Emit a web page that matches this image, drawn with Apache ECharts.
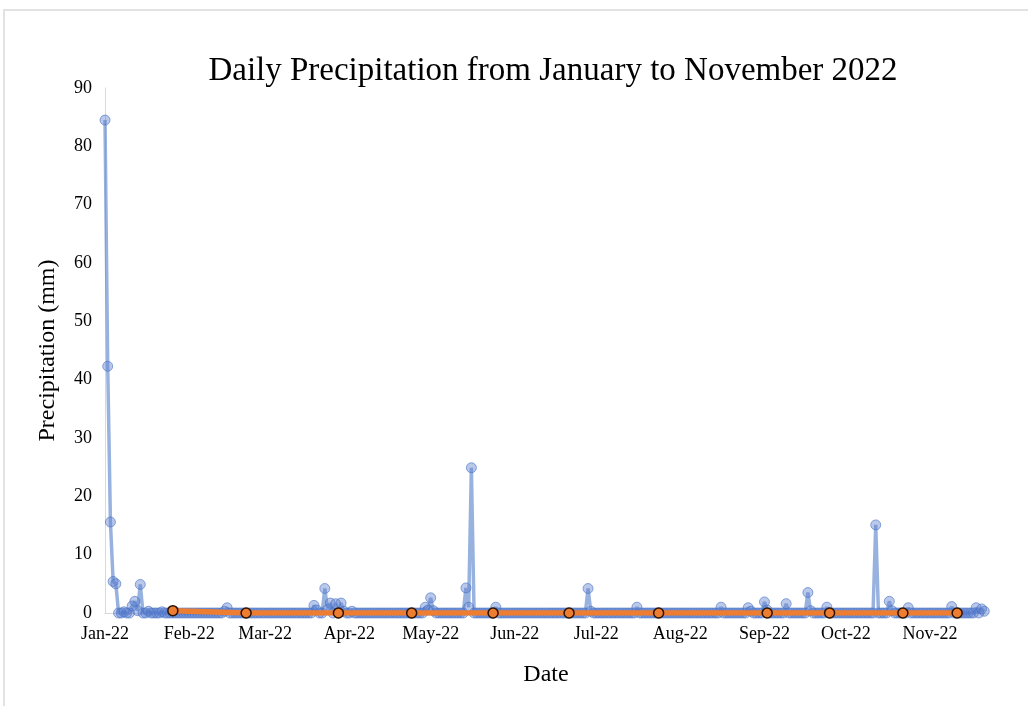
<!DOCTYPE html>
<html>
<head>
<meta charset="utf-8">
<script src="https://cdn.jsdelivr.net/npm/echarts@6/dist/echarts.min.js"></script>
<style>
  html, body { margin: 0; padding: 0; background: #ffffff; }
  #chart { width: 1028px; height: 706px; }
</style>
</head>
<body>
<div id="chart"></div>
<script>
// Daily precipitation (mm), one array per month of 2022
const precipJan = [84.5, 42.3, 15.6, 5.4, 5.0, 0, 0, 0.2, 0, 0, 1.2, 2.0, 0.4, 4.9, 0, 0, 0.3, 0, 0, 0, 0, 0.2, 0, 0, 0, 0, 0, 0, 0, 0, 0];
const precipFeb = [0, 0, 0, 0, 0, 0, 0, 0, 0, 0, 0, 0, 0, 0.3, 0.9, 0, 0, 0, 0, 0, 0, 0, 0, 0, 0, 0, 0, 0];
const precipMar = [0, 0, 0, 0, 0, 0, 0, 0, 0, 0, 0, 0, 0, 0, 0, 0, 0, 0, 1.3, 0.5, 0, 0, 4.2, 0.6, 1.7, 0, 1.6, 0, 1.7, 0.3, 0];
const precipApr = [0, 0.3, 0, 0, 0, 0, 0, 0, 0, 0, 0, 0, 0, 0, 0, 0, 0, 0, 0, 0, 0, 0, 0, 0, 0, 0, 0, 0, 1.0, 0.5];
const precipMay = [2.6, 0.4, 0, 0, 0, 0, 0, 0, 0, 0, 0, 0, 0, 4.3, 1.0, 24.9, 0, 0, 0, 0, 0, 0, 0, 0, 1.0, 0, 0, 0, 0, 0, 0];
const precipJun = [0, 0, 0, 0, 0, 0, 0, 0, 0, 0, 0, 0, 0, 0, 0, 0, 0, 0, 0, 0, 0, 0, 0, 0, 0, 0, 0, 4.2, 0.3, 0];
const precipJul = [0, 0, 0, 0, 0, 0, 0, 0, 0, 0, 0, 0, 0, 0, 0, 1.0, 0, 0, 0, 0, 0, 0, 0, 0, 0, 0, 0, 0, 0, 0, 0];
const precipAug = [0, 0, 0, 0, 0, 0, 0, 0, 0, 0, 0, 0, 0, 0, 0, 1.0, 0, 0, 0, 0, 0, 0, 0, 0, 0, 0.9, 0.3, 0, 0, 0, 0];
const precipSep = [1.9, 0.5, 0, 0, 0, 0, 0, 0, 1.6, 0, 0, 0, 0, 0, 0, 0, 3.5, 0.4, 0, 0, 0, 0, 0, 1.0, 0, 0, 0, 0, 0, 0];
const precipOct = [0, 0, 0, 0, 0, 0, 0, 0, 0, 0, 0, 15.1, 0, 0, 0, 0, 2.0, 0.4, 0, 0, 0, 0, 0, 0.9, 0, 0, 0, 0, 0, 0, 0];
const precipNov = [0, 0, 0, 0, 0, 0, 0, 0, 1.1, 0, 0, 0, 0, 0, 0, 0, 0, 0.9, 0, 0.7, 0.3];

// Second series: sparse readings on selected dates
const sampleDates = ['2022-01-26', '2022-02-22', '2022-03-28', '2022-04-24', '2022-05-24', '2022-06-21',
                     '2022-07-24', '2022-09-02', '2022-09-25', '2022-10-22', '2022-11-11'];
const sampleValues = [0.4, 0, 0, 0, 0, 0, 0, 0, 0, 0, 0];

// Axis tick labels (one per month start)
const monthLabels = ['Jan-22', 'Feb-22', 'Mar-22', 'Apr-22', 'May-22', 'Jun-22',
                     'Jul-22', 'Aug-22', 'Sep-22', 'Oct-22', 'Nov-22'];

const dailyMonths = [precipJan, precipFeb, precipMar, precipApr, precipMay, precipJun,
                     precipJul, precipAug, precipSep, precipOct, precipNov];

function toTime(str) {
  const p = str.split('-');
  return +new Date(+p[0], +p[1] - 1, +p[2]);
}

const dailyData = [];
dailyMonths.forEach(function (vals, m) {
  vals.forEach(function (v, d) {
    dailyData.push([+new Date(2022, m, d + 1), v]);
  });
});
const sampleData = sampleDates.map(function (d, i) { return [toTime(d), sampleValues[i]]; });
const monthStarts = monthLabels.map(function (_, m) { return +new Date(2022, m, 1); });

const serif = '"Liberation Serif", "Times New Roman", serif';

const chart = echarts.init(document.getElementById('chart'), null, { renderer: 'canvas' });
chart.setOption({
  backgroundColor: '#ffffff',
  animation: false,
  graphic: [
    {
      type: 'rect',
      shape: { x: 4, y: 10, width: 1100, height: 800 },
      style: { fill: 'none', stroke: '#e2e2e2', lineWidth: 2 },
      silent: true
    },
    {
      type: 'text',
      x: 553,
      y: 71,
      style: {
        text: 'Daily Precipitation from January to November 2022',
        font: '33px ' + serif,
        fill: '#000000',
        textAlign: 'center',
        textVerticalAlign: 'middle'
      }
    }
  ],
  grid: { left: 105, right: 41, top: 88, bottom: 93, containLabel: false },
  xAxis: {
    type: 'value',
    min: +new Date(2022, 0, 1),
    max: +new Date(2022, 10, 22),
    name: 'Date',
    nameLocation: 'middle',
    nameGap: 50,
    nameTextStyle: { fontFamily: serif, fontSize: 24, color: '#000000' },
    axisLine: { show: true, lineStyle: { color: '#d9d9d9', width: 1 } },
    axisTick: { show: false },
    splitLine: { show: false },
    axisLabel: {
      customValues: monthStarts,
      formatter: function (v) { return monthLabels[new Date(v).getMonth()]; },
      fontFamily: serif,
      fontSize: 18,
      color: '#000000',
      margin: 12
    }
  },
  yAxis: {
    type: 'value',
    min: 0,
    max: 90,
    interval: 10,
    name: 'Precipitation (mm)',
    nameLocation: 'middle',
    nameGap: 45,
    nameTextStyle: { fontFamily: serif, fontSize: 24, color: '#000000' },
    axisLine: { show: true, lineStyle: { color: '#d9d9d9', width: 1 } },
    axisTick: { show: false },
    splitLine: { show: false },
    axisLabel: { fontFamily: serif, fontSize: 18, color: '#000000', margin: 13 }
  },
  series: [
    {
      name: 'Daily precipitation',
      type: 'line',
      data: dailyData,
      symbol: 'circle',
      symbolSize: 10,
      showAllSymbol: true,
      lineStyle: { color: 'rgba(68,114,196,0.55)', width: 3.5 },
      itemStyle: { color: 'rgba(90,125,205,0.42)', borderColor: 'rgba(68,114,196,0.6)', borderWidth: 1 },
      z: 2
    },
    {
      name: 'Samples',
      type: 'line',
      data: sampleData,
      symbol: 'circle',
      symbolSize: 10,
      lineStyle: { color: '#ED7D31', width: 5.5 },
      itemStyle: { color: '#ED7D31', borderColor: '#2b1200', borderWidth: 1.5 },
      z: 3
    }
  ]
});
</script>
</body>
</html>
